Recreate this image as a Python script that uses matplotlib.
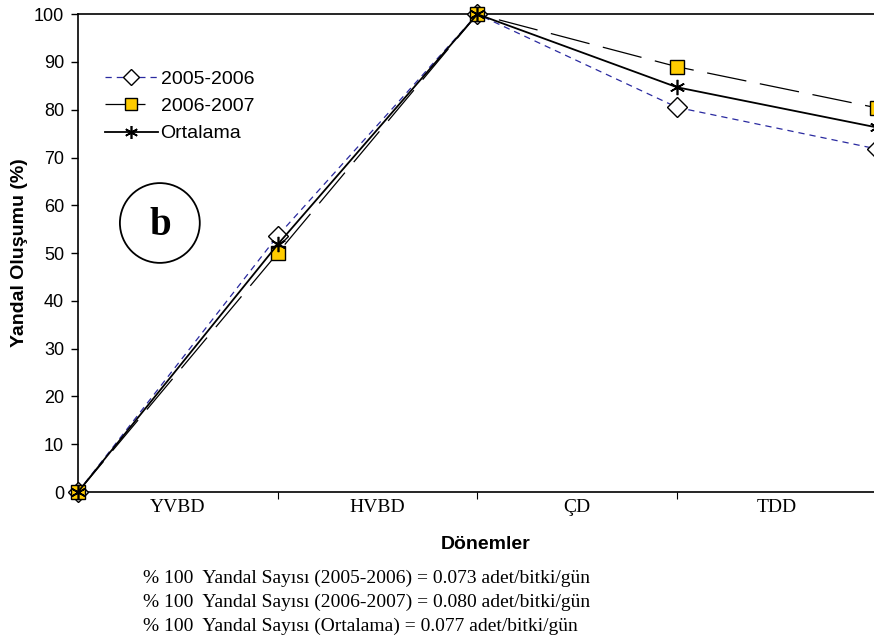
import numpy as np
import matplotlib.pyplot as plt
from matplotlib.patches import Ellipse

# Yandal oluşumu verileri (%)
donemler = ['YVBD', 'HVBD', 'ÇD', 'TDD']
y_2005 = [0, 53.6, 100, 80.5, 71.8]
y_2006 = [0, 50, 100, 89, 80.4]
ortalama = [0, 51.8, 100, 84.7, 76.3]
notlar = ['% 100  Yandal Sayısı (2005-2006) = 0.073 adet/bitki/gün',
          '% 100  Yandal Sayısı (2006-2007) = 0.080 adet/bitki/gün',
          '% 100  Yandal Sayısı (Ortalama) = 0.077 adet/bitki/gün']

plt.rcParams['font.family'] = ['Liberation Sans', 'DejaVu Sans']

fig = plt.figure(figsize=(8.74, 6.44), dpi=100)
ax = fig.add_axes([0.0892, 0.236, 0.914, 0.742])

x = np.arange(len(y_2005))
ax.plot(x, y_2005, linestyle=(0, (5, 4)), color='#2a2aa0', lw=0.9,
        marker='D', ms=10, mfc='white', mec='black', mew=1.0, label='2005-2006', zorder=3)
ax.plot(x, y_2006, linestyle=(0, (32, 11)), color='black', lw=0.9,
        marker='s', ms=10, mfc='#FFCC00', mec='black', mew=1.0, label='2006-2007', zorder=3)
ax.plot(x, ortalama, linestyle='-', color='black', lw=1.3,
        marker=(6, 2, 0), ms=11, mec='black', mew=1.2, label='Ortalama', zorder=4)

ax.set_xlim(0, 4)
ax.set_ylim(0, 100)
ax.set_yticks(range(0, 101, 10))
ax.tick_params(axis='y', labelsize=13, direction='out', length=5, width=1, pad=5)
ax.set_xticks(range(5))
ax.set_xticklabels([])
ax.tick_params(axis='x', direction='out', length=5, width=0.8)
ax.set_xticks(np.arange(len(donemler)) + 0.5, minor=True)
ax.set_xticklabels(donemler, minor=True, family='Liberation Serif', fontsize=14)
ax.tick_params(axis='x', which='minor', length=0, pad=5)

for s in ['left', 'top', 'bottom', 'right']:
    ax.spines[s].set_linewidth(1.2)
for a in ax.lines:
    a.set_clip_on(False)

ax.set_ylabel('Yandal Oluşumu (%)', fontsize=14, fontweight='bold')
ax.yaxis.set_label_coords(-0.063, 0.5)
ax.set_xlabel('Dönemler', fontsize=14, fontweight='bold')
ax.xaxis.set_label_coords(0.51, -0.093)

ax.legend(loc='upper left', bbox_to_anchor=(0.034, 0.883), frameon=False,
          fontsize=14, handlelength=2.7, handletextpad=0.15, labelspacing=0.5,
          borderpad=0, borderaxespad=0, markerscale=0.85)

# "b" etiketi daire içinde
ax.add_patch(Ellipse((0.41, 56.3), 0.40, 16.7, fill=False, lw=1.3, color='black', zorder=5))
ax.text(0.41, 55.8, 'b', ha='center', va='center', fontsize=28, fontweight='bold',
        family='Liberation Serif')

for i, t in enumerate(notlar):
    fig.text(0.1636, (644 - 578 - 24 * i) / 644, t, ha='left', va='center',
             fontsize=14, family='Liberation Serif')

fig.savefig('out.png', dpi=100)
